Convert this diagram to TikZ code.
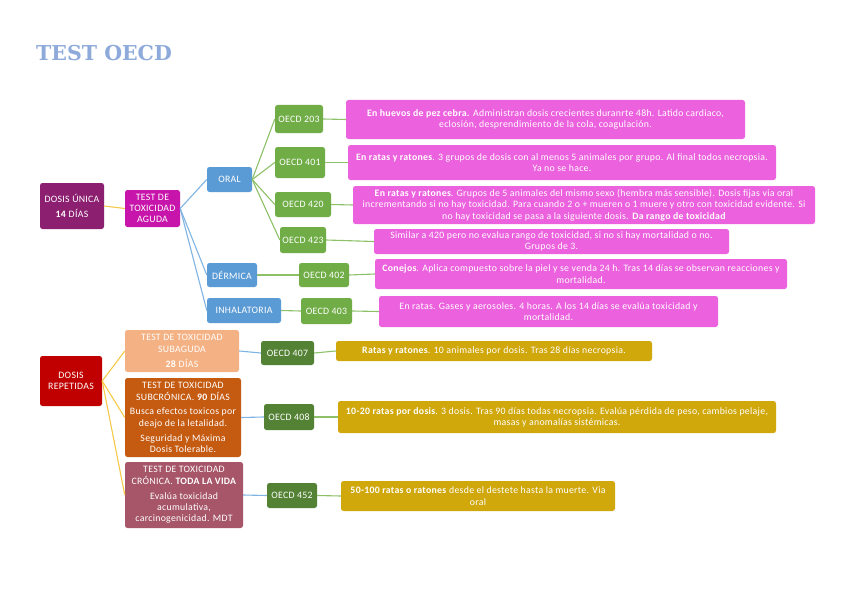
\documentclass[tikz,border=0pt]{standalone}
\usepackage{fontspec}
\setmainfont{Carlito}[LetterSpace=3]
\newfontfamily\titlefont{DejaVu Serif}
\definecolor{cpurple}{HTML}{8C1F70}
\definecolor{cmagenta}{HTML}{C714AA}
\definecolor{cblue}{HTML}{5B9BD5}
\definecolor{cgreen}{HTML}{70AD47}
\definecolor{cpink}{HTML}{EC62DE}
\definecolor{cred}{HTML}{C00000}
\definecolor{csalmon}{HTML}{F4B183}
\definecolor{corange}{HTML}{C55A11}
\definecolor{crose}{HTML}{A65668}
\definecolor{cdgreen}{HTML}{548235}
\definecolor{cgold}{HTML}{D0A80C}
\definecolor{ctitle}{HTML}{8EAADB}
\definecolor{lblue}{HTML}{7FB3E3}
\definecolor{lgreen}{HTML}{8CC168}
\definecolor{lyellow}{HTML}{F7C948}
\tikzset{
  box/.style={rounded corners=2.5pt, inner sep=0pt, align=center, text=white,
    font=\fontsize{9.8}{11.3}\selectfont},
  lnblue/.style={draw=lblue, line width=1.1pt},
  lngreen/.style={draw=lgreen, line width=1.1pt},
  lnyellow/.style={draw=lyellow, line width=1.1pt},
}
\newcommand{\bx}[7]{\node[box, fill=#6, minimum width={(#4-#2)*1pt}, minimum height={(#5-#3)*1pt}] (#1) at ({(#2+#4)/2},{(#3+#5)/2}) {#7};}
\begin{document}
\begin{tikzpicture}[x=1pt,y=-1pt]
\fill[white] (0,0) rectangle (848,599);
\useasboundingbox (0,0) rectangle (848,599);
\node[anchor=base west, inner sep=0pt, text=ctitle, font=\titlefont\bfseries\fontsize{20.5}{20.5}\selectfont] (title) at (36,61) {TEST OECD};

% left column
\bx{unica}{40}{183}{104}{229}{cpurple}{DOSIS ÚNICA\\[4pt]\textbf{14} DÍAS}
\bx{aguda}{125}{190}{180}{227}{cmagenta}{TEST DE\\TOXICIDAD\\AGUDA}
\bx{oral}{207}{167}{252}{192}{cblue}{ORAL}
\bx{dermica}{207}{263}{257}{287}{cblue}{DÉRMICA}
\bx{inhal}{207}{298}{281}{323}{cblue}{INHALATORIA}

\bx{o203}{275}{105}{323}{133}{cgreen}{OECD 203}
\bx{o401}{275}{147}{325}{178}{cgreen}{OECD 401}
\bx{o420}{275}{192}{331}{217}{cgreen}{OECD 420}
\bx{o423}{280}{227}{326}{253}{cgreen}{OECD 423}
\bx{o402}{299}{263}{349}{287}{cgreen}{OECD 402}
\bx{o403}{301}{298}{352}{324}{cgreen}{OECD 403}

\bx{d203}{346}{100}{745}{139}{cpink}{\textbf{En huevos de pez cebra.} Administran dosis crecientes duranrte 48h. Latido cardiaco,\\eclosión, desprendimiento de la cola, coagulación.}
\bx{d401}{348}{145}{776}{180}{cpink}{\textbf{En ratas y ratones}. 3 grupos de dosis con al menos 5 animales por grupo. Al final todos necropsia.\\Ya no se hace.}
\bx{d420}{353}{186}{815}{224}{cpink}{\textbf{En ratas y ratones}. Grupos de 5 animales del mismo sexo (hembra más sensible). Dosis fijas via oral\\incrementando si no hay toxicidad. Para cuando 2 o + mueren o 1 muere y otro con toxicidad evidente. Si\\no hay toxicidad se pasa a la siguiente dosis. \textbf{Da rango de toxicidad}}
\bx{d423}{374}{229}{729}{254}{cpink}{Similar a 420 pero no evalua rango de toxicidad, si no si hay mortalidad o no.\\Grupos de 3.}
\bx{d402}{375}{259}{787}{289}{cpink}{\textbf{Conejos}. Aplica compuesto sobre la piel y se venda 24 h. Tras 14 días se observan reacciones y\\mortalidad.}
\bx{d403}{379}{296}{718}{327}{cpink}{En ratas. Gases y aerosoles. 4 horas. A los 14 días se evalúa toxicidad y\\mortalidad.}

% repeated doses
\bx{repet}{40}{356}{102}{406}{cred}{DOSIS\\REPETIDAS}
\bx{subag}{125}{330}{239}{372}{csalmon}{TEST DE TOXICIDAD\\SUBAGUDA\\[4pt]\textbf{28} DÍAS}
\bx{subcr}{125}{378}{241}{457}{corange}{TEST DE TOXICIDAD\\SUBCRÓNICA. \textbf{90} DÍAS\\[3.5pt]Busca efectos toxicos por\\deajo de la letalidad.\\[3.5pt]Seguridad y Máxima\\Dosis Tolerable.}
\bx{cronica}{125}{462}{243}{528}{crose}{TEST DE TOXICIDAD\\CRÓNICA. \textbf{TODA LA VIDA}\\[4pt]Evalúa toxicidad\\acumulativa,\\carcinogenicidad. MDT}

\bx{o407}{261}{341}{314}{365}{cdgreen}{OECD 407}
\bx{o408}{264}{404}{314}{430}{cdgreen}{OECD 408}
\bx{o452}{267}{483}{317}{508}{cdgreen}{OECD 452}

\bx{d407}{336}{341}{652}{361}{cgold}{\textbf{Ratas y ratones}. 10 animales por dosis. Tras 28 días necropsia.}
\bx{d408}{338}{401}{776}{433}{cgold}{\textbf{10-20 ratas por dosis}. 3 dosis. Tras 90 días todas necropsia. Evalúa pérdida de peso, cambios pelaje,\\masas y anomalías sistémicas.}
\bx{d452}{341}{481}{615}{511}{cgold}{\textbf{50-100 ratas o ratones} desde el destete hasta la muerte. Via\\oral}

% connectors
\draw[lnyellow] (unica.east) -- (aguda.west);
\draw[lnblue] (aguda.east) -- (oral.west);
\draw[lnblue] (aguda.east) -- (dermica.west);
\draw[lnblue] (aguda.east) -- (inhal.west);
\foreach \o in {o203,o401,o420,o423}{\draw[lngreen] (oral.east) -- (\o.west);}
\draw[lngreen] (dermica.east) -- (o402.west);
\draw[lngreen] (inhal.east) -- (o403.west);
\foreach \o in {203,401,420,423,402,403}{\draw[lngreen] (o\o.east) -- (d\o.west);}

\draw[lnyellow] (repet.east) -- (subag.west);
\draw[lnyellow] (repet.east) -- (subcr.west);
\draw[lnyellow] (repet.east) -- (cronica.west);
\draw[lnblue] (subag.east) -- (o407.west);
\draw[lnblue] (subcr.east) -- (o408.west);
\draw[lnblue] (cronica.east) -- (o452.west);
\draw[lngreen] (o407.east) -- (d407.west);
\draw[lngreen] (o408.east) -- (d408.west);
\draw[lngreen] (o452.east) -- (d452.west);
\end{tikzpicture}
\end{document}
